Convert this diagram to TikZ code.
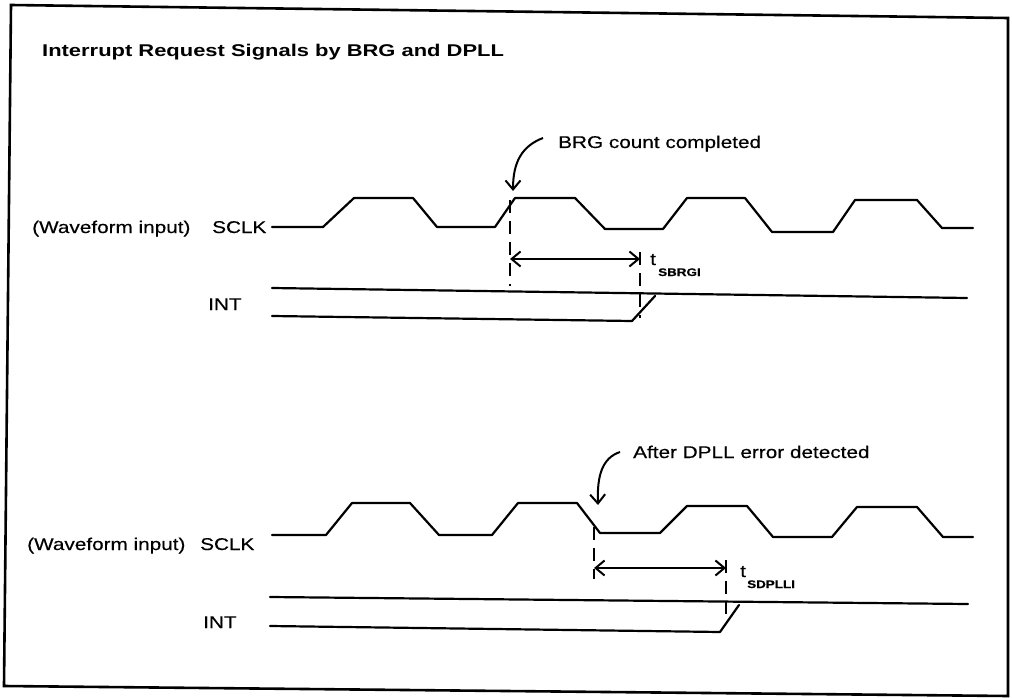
\documentclass[tikz,border=0pt]{standalone}
\usepackage{fontspec}
\setmainfont{Liberation Sans}[FakeStretch=1.22,FakeBold=0.4]
\newfontfamily\titlefont{Liberation Sans}[FakeStretch=1.29]
\usetikzlibrary{arrows.meta}
\begin{document}
\begin{tikzpicture}[x=1pt,y=-1pt,
  lbl/.style={font=\fontsize{17}{20}\selectfont, inner sep=0pt, anchor=base west},
  sublbl/.style={font=\fontsize{11}{13}\selectfont\bfseries, inner sep=0pt, anchor=base west},
  wave/.style={line width=2.2pt, line join=round, line cap=round},
  frameline/.style={line width=2.6pt, line join=miter},
  dashv/.style={line width=2pt, dash pattern=on 13pt off 8pt},
  barb/.style={line width=2pt, -{Straight Barb[length=9pt,width=15pt,line width=2pt]}},
  dbarb/.style={line width=2pt, {Straight Barb[length=9pt,width=15pt,line width=2pt]}-{Straight Barb[length=9pt,width=15pt,line width=2pt]}}
]
\useasboundingbox (0,0) rectangle (1012,698);
% frame
\draw[frameline] (11,5) -- (1008,18) -- (1008,696) -- (4,686) -- cycle;

% title
\node[lbl] (title) at (42,57) {\titlefont\bfseries Interrupt Request Signals by BRG and DPLL};

% ---------- upper panel ----------
\node[lbl] (wf1) at (32,233) {(Waveform input)};
\node[lbl] (sclk1) at (212,233) {SCLK};
\node[lbl] (int1) at (208,310) {INT};
\node[lbl] (brg) at (558,148) {BRG count completed};
\node[lbl] (t1) at (650,265) {t};
\node[sublbl] (s1) at (658,276) {SBRGI};

\draw[wave] (272,227) -- (323,227) -- (354,198) -- (413,198) -- (437,227) -- (495,227)
  -- (515,198) -- (575,198) -- (605,229) -- (663,229) -- (687,198) -- (745,198)
  -- (772,232) -- (833,232) -- (855,200) -- (917,200) -- (942,228) -- (973,228);
\draw[wave] (272,288) -- (967,298);
\draw[wave] (272,316) -- (632,321) -- (655,296);

\coordinate (d1t) at (510,200);
\coordinate (d1b) at (510,286);
\coordinate (a1l) at (510,259);
\coordinate (a1r) at (640,259);
\coordinate (d2t) at (640,252);
\coordinate (d2b) at (640,318);
\draw[dashv] (d1t) -- (d1b);
\draw[dashv] (d2t) -- (d2b);
\draw[dbarb] (a1l) -- (a1r);

\coordinate (c1s) at (543,138);
\coordinate (c1e) at (513,191);
\draw[barb] (c1s) .. controls (522,146) and (513,162) .. (c1e);

% ---------- lower panel ----------
\node[lbl] (wf2) at (27,550) {(Waveform input)};
\node[lbl] (sclk2) at (200,550) {SCLK};
\node[lbl] (int2) at (203,628) {INT};
\node[lbl] (dpll) at (633,458) {After DPLL error detected};
\node[lbl] (t2) at (740,577) {t};
\node[sublbl] (s2) at (747,588) {SDPLLI};

\draw[wave] (272,535) -- (326,535) -- (352,503) -- (410,503) -- (439,535) -- (492,535)
  -- (518,503) -- (577,503) -- (600,533) -- (660,533) -- (687,506) -- (747,506)
  -- (773,537) -- (832,537) -- (857,507) -- (917,507) -- (943,537) -- (973,537);
\draw[wave] (270,597) -- (968,604);
\draw[wave] (270,626) -- (720,632) -- (739,605);

\coordinate (d3t) at (594,527);
\coordinate (d3b) at (594,579);
\coordinate (a2l) at (594,568);
\coordinate (a2r) at (726,568);
\coordinate (d4t) at (726,560);
\coordinate (d4b) at (726,614);
\draw[dashv] (d3t) -- (d3b);
\draw[dashv] (d4t) -- (d4b);
\draw[dbarb] (a2l) -- (a2r);

\coordinate (c2s) at (620,452);
\coordinate (c2e) at (598,505);
\draw[barb] (c2s) .. controls (602,458) and (597,476) .. (c2e);
\end{tikzpicture}
\end{document}
